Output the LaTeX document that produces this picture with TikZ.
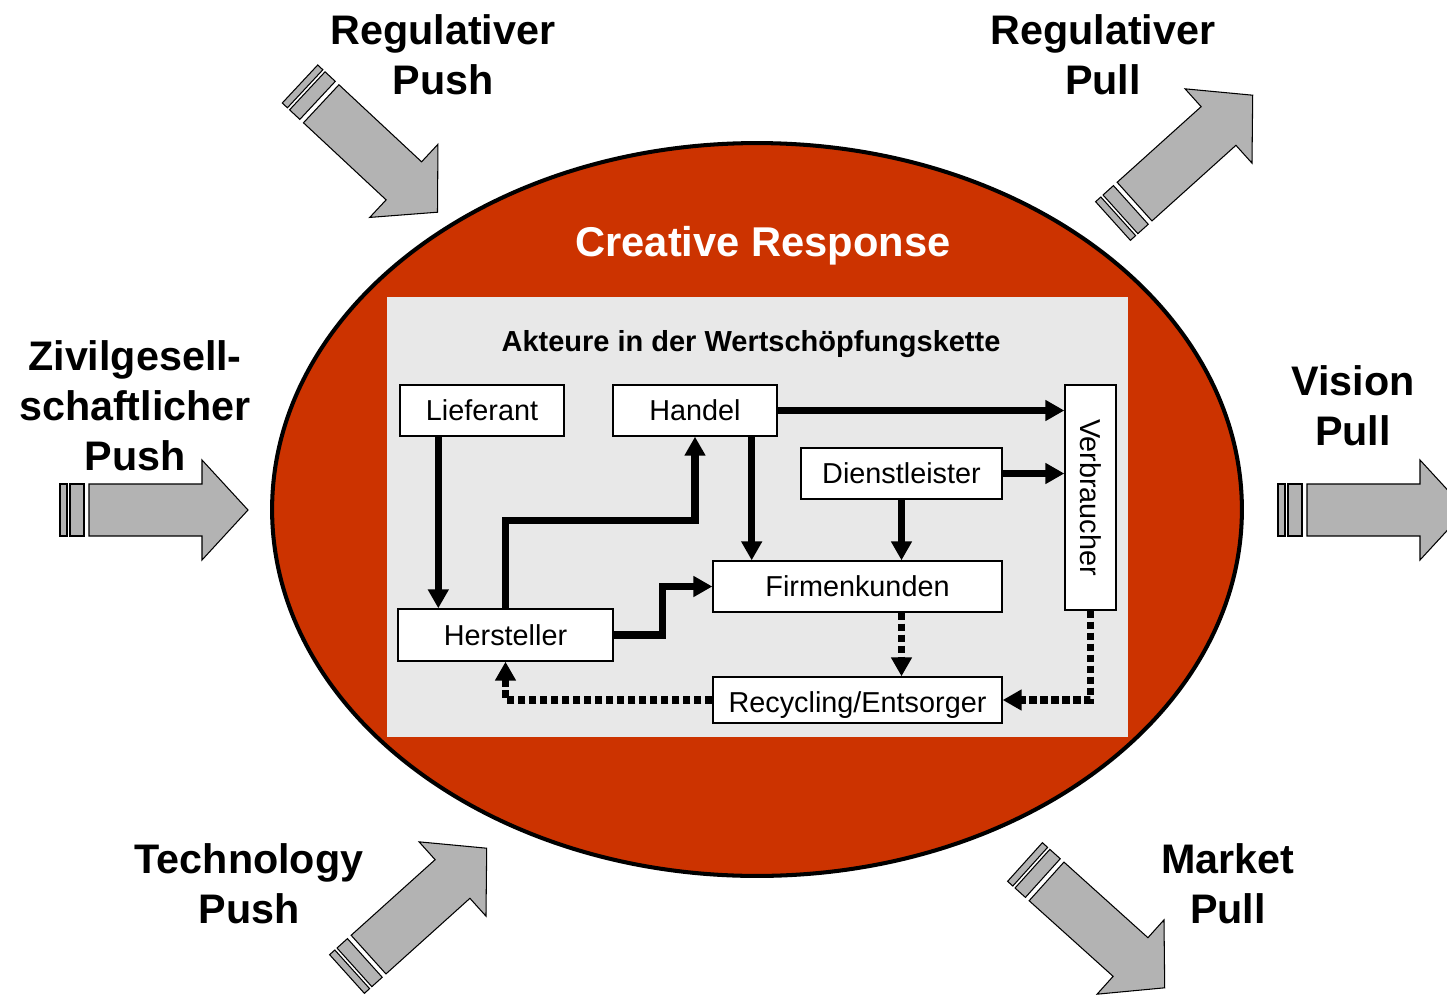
\documentclass[tikz,border=0pt]{standalone}
\usepackage{fontspec}
\setmainfont{Liberation Sans}
\usepackage{tikz}
\usetikzlibrary{arrows.meta,positioning}
\definecolor{response}{RGB}{204,51,0}
\definecolor{akteurbg}{RGB}{232,232,232}
\definecolor{forcegray}{RGB}{179,179,179}
\tikzstyle{force}=[draw=black, fill=forcegray, line width=0.6pt, line join=miter]
\tikzstyle{forcelabel}=[align=center, font=\fontsize{23.5}{28.5}\selectfont\bfseries]
\tikzstyle{akteur}=[draw=black, fill=white, line width=0.8pt, inner sep=0pt, minimum height=1.02cm, font=\fontsize{16.4}{19}\selectfont]
\tikzstyle{flow}=[line width=4pt, -{Triangle[length=0.38cm,width=0.4cm]}]
\tikzstyle{backflow}=[flow, dash pattern=on 0.15cm off 0.07cm]
% fat grey arrow: tail x, tail y, angle
\newcommand{\fatarrow}[3]{%
  \begin{scope}[shift={(#1,#2)}, rotate=#3]
    \draw[force] (0,-26) rectangle (7,26);
    \draw[force] (10,-26) rectangle (24,26);
    \draw[force] (29,-26) -- (142,-26) -- (142,-50) -- (188,0) -- (142,50) -- (142,26) -- (29,26) -- cycle;
  \end{scope}}

\begin{document}
\begin{tikzpicture}[x=0.02cm, y=-0.02cm]
    \useasboundingbox (0,0) rectangle (1447,994);
    \clip (0,0) rectangle (1447,994);

    % the response
    \draw[line width=2.3pt, fill=response] (757,509.5) ellipse [x radius=9.7cm, y radius=7.33cm];
    \node[text=white, font=\fontsize{23.7}{28}\selectfont\bfseries] (response) at (763,246) {Creative Response};
    \fill[akteurbg] (387,297) rectangle (1128,737);
    \node[font=\fontsize{16.5}{19}\selectfont\bfseries] (kette) at (751,344) {Akteure in der Wertsch\"opfungskette};

    % actors
    \node[akteur, minimum width=3.28cm] (lieferant) at (482,410.5) {Lieferant};
    \node[akteur, minimum width=3.28cm] (handel) at (695,410.5) {Handel};
    \node[akteur, minimum width=4.02cm] (dienstleister) at (901.5,473.5) {Dienstleister};
    \node[akteur, minimum width=5.78cm] (firmenkunden) at (857.5,586.5) {Firmenkunden};
    \node[akteur, minimum width=4.3cm, minimum height=1.04cm] (hersteller) at (505.5,635) {Hersteller};
    \node[akteur, minimum width=5.78cm, minimum height=0.92cm, text height=0.62cm, text depth=0.12cm] (recycling) at (857.5,700) {Recycling/Entsorger};
    \node[akteur, minimum width=1.02cm, minimum height=4.5cm] (verbraucher) at (1090.5,497.5) {\rotatebox{-90}{Verbraucher}};

    % material flows
    \draw[flow] ([xshift=0.78cm]lieferant.south west) -- ([xshift=0.78cm]lieferant.south west |- hersteller.north);
    \draw[flow] (hersteller.north) -- ++(0,-88) -| (handel.south);
    \draw[flow] ([xshift=-0.52cm]handel.south east) -- ([xshift=-0.52cm]handel.south east |- firmenkunden.north);
    \draw[flow] (handel.east) -- (handel.east -| verbraucher.west);
    \draw[flow] (dienstleister.east) -- (dienstleister.east -| verbraucher.west);
    \draw[flow] (dienstleister.south) -- (dienstleister.south |- firmenkunden.north);
    \draw[flow] (hersteller.east) -- ++(49,0) |- (firmenkunden.west);
    % return flows
    \draw[backflow] (firmenkunden.south -| dienstleister.south) -- (recycling.north -| dienstleister.south);
    \draw[backflow] (verbraucher.south) |- (recycling.east);
    \draw[backflow] (recycling.west) -| (hersteller.south);

    % driving forces
    \fatarrow{300}{84}{-43}
    \fatarrow{1113}{221}{42}
    \fatarrow{60}{510}{0}
    \fatarrow{1278}{510}{0}
    \fatarrow{347}{974}{42}
    \fatarrow{1025}{862}{-42}

    \node[forcelabel] (regpush) at (443,55) {Regulativer\\Push};
    \node[forcelabel] (regpull) at (1103,55) {Regulativer\\Pull};
    \node[forcelabel] (zivil) at (135,406) {Zivilgesell-\\schaftlicher\\Push};
    \node[forcelabel] (vision) at (1353,406) {Vision\\Pull};
    \node[forcelabel] (techpush) at (249,884) {Technology\\Push};
    \node[forcelabel] (market) at (1228,884) {Market\\Pull};
\end{tikzpicture}
\end{document}
